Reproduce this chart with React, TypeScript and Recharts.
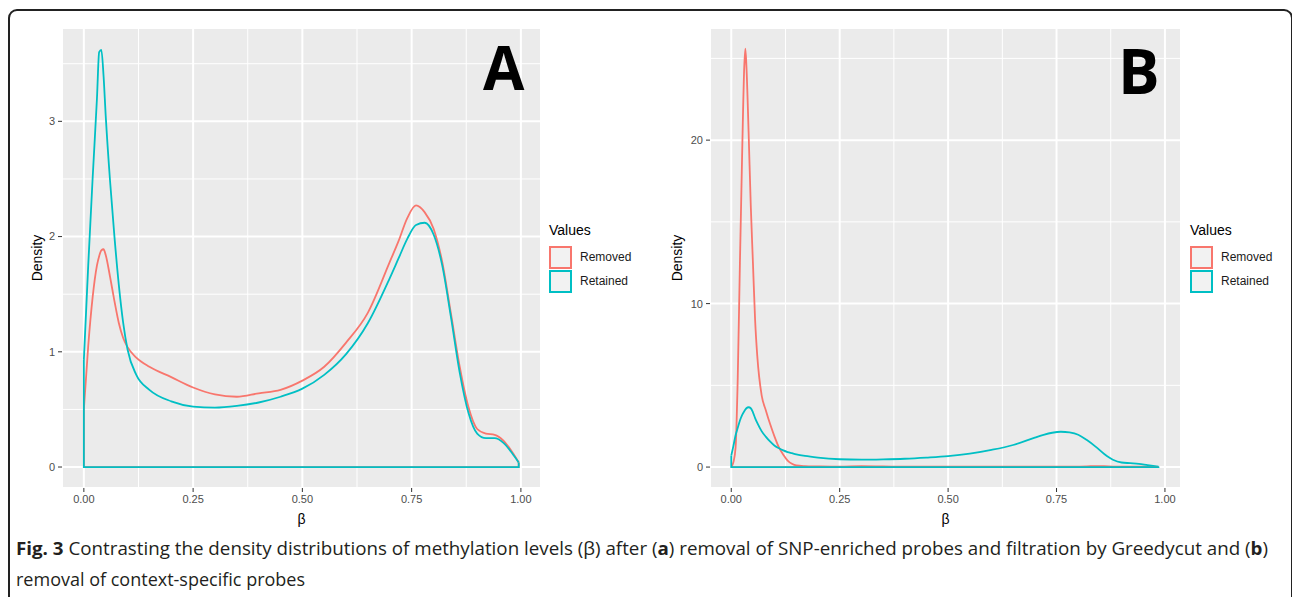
import React from 'react';
import { LineChart, Line, XAxis, YAxis, CartesianGrid } from 'recharts';

// legend / series
const seriesNames = ['Removed', 'Retained'];
const seriesColors = ['#F8766D', '#00BFC4'];

const xTicks = [0, 0.25, 0.5, 0.75, 1];
const xMinor = [0.125, 0.375, 0.625, 0.875];

// panel A: SNP-enriched probes + Greedycut
const betaA = [0, 0.01, 0.02, 0.03, 0.035, 0.04, 0.045, 0.05, 0.06, 0.07, 0.08, 0.09, 0.1, 0.12, 0.15, 0.2, 0.25, 0.3, 0.35, 0.4, 0.45, 0.5, 0.55, 0.6, 0.65, 0.7, 0.72, 0.74, 0.76, 0.78, 0.8, 0.82, 0.84, 0.86, 0.88, 0.9, 0.92, 0.94, 0.96, 0.98, 0.995];
const removedA = [0.5, 1.05, 1.47, 1.75, 1.83, 1.88, 1.89, 1.84, 1.65, 1.44, 1.25, 1.12, 1.04, 0.95, 0.87, 0.78, 0.69, 0.63, 0.61, 0.64, 0.67, 0.75, 0.87, 1.08, 1.34, 1.78, 1.96, 2.16, 2.27, 2.21, 2.07, 1.78, 1.33, 0.87, 0.52, 0.33, 0.29, 0.28, 0.23, 0.13, 0.04];
const retainedA = [0.93, 1.75, 2.5, 3.2, 3.6, 3.62, 3.4, 3.05, 2.48, 2.0, 1.58, 1.25, 1.02, 0.8, 0.67, 0.57, 0.525, 0.515, 0.53, 0.56, 0.61, 0.68, 0.8, 0.98, 1.25, 1.64, 1.81, 1.98, 2.1, 2.12, 2.02, 1.75, 1.3, 0.82, 0.47, 0.29, 0.25, 0.25, 0.21, 0.12, 0.04];
const yTicksA = [0, 1, 2, 3];
const yMinorA = [0.5, 1.5, 2.5, 3.5];

// panel B: context-specific probes
const betaB = [0, 0.005, 0.01, 0.015, 0.02, 0.025, 0.03, 0.0325, 0.035, 0.04, 0.045, 0.05, 0.055, 0.06, 0.07, 0.08, 0.09, 0.1, 0.11, 0.12, 0.13, 0.14, 0.15, 0.17, 0.2, 0.25, 0.3, 0.35, 0.4, 0.45, 0.5, 0.55, 0.6, 0.65, 0.7, 0.72, 0.74, 0.76, 0.78, 0.8, 0.82, 0.84, 0.86, 0.88, 0.9, 0.92, 0.94, 0.96, 0.985];
const removedB = [0, 0.3, 1.2, 5.5, 12.5, 19.0, 24.5, 25.6, 24.5, 20.5, 16.0, 12.5, 9.0, 6.8, 4.4, 3.45, 2.6, 1.85, 1.2, 0.75, 0.4, 0.2, 0.1, 0.06, 0.04, 0.02, 0.05, 0.04, 0.02, 0.02, 0.02, 0.02, 0.02, 0.02, 0.02, 0.02, 0.02, 0.02, 0.02, 0.03, 0.04, 0.06, 0.05, 0.03, 0.02, 0.02, 0.02, 0.02, 0];
const retainedB = [0.7, 1.3, 1.95, 2.4, 2.85, 3.18, 3.42, 3.52, 3.6, 3.66, 3.6, 3.35, 3.0, 2.7, 2.2, 1.85, 1.55, 1.3, 1.15, 1.02, 0.92, 0.85, 0.78, 0.68, 0.58, 0.48, 0.45, 0.47, 0.51, 0.58, 0.67, 0.82, 1.05, 1.35, 1.8, 1.97, 2.1, 2.16, 2.12, 1.98, 1.65, 1.25, 0.8, 0.45, 0.28, 0.24, 0.2, 0.12, 0.03];
const yTicksB = [0, 10, 20];
const yMinorB = [5, 15, 25];

const FONT = '"Liberation Sans", Arial, sans-serif';

const toCurve = (beta: number[], ys: number[]) => beta.map((b, i) => ({ beta: b, density: ys[i] }));
// geom_density closes the polygon: down to zero at both ends, along the baseline
const toOutline = (beta: number[], ys: number[]) => {
  const n = beta.length - 1;
  return [
    { beta: beta[0], density: ys[0] },
    { beta: beta[0], density: 0 },
    { beta: beta[n], density: 0 },
    { beta: beta[n], density: ys[n] },
  ];
};

type PanelProps = {
  left: number;
  marginLeft: number;
  beta: number[];
  series: number[][];
  yTicks: number[];
  yMinor: number[];
  xDomain: [number, number];
  yDomain: [number, number];
  labelDx: number;
};

function DensityPanel({ left, marginLeft, beta, series, yTicks, yMinor, xDomain, yDomain, labelDx }: PanelProps) {
  const tickStyle = { fill: '#4D4D4D', fontSize: 11, fontFamily: FONT };
  return (
    <div style={{ position: 'absolute', left, top: 0 }}>
      <LineChart width={560} height={540} margin={{ top: 28, right: 19, bottom: 12, left: marginLeft }}>
        <CartesianGrid fill="#EBEBEB" stroke="#FFFFFF" strokeWidth={2} />
        <CartesianGrid horizontalValues={yMinor} verticalValues={xMinor} stroke="#FFFFFF" strokeWidth={1} />
        <XAxis
          dataKey="beta"
          type="number"
          domain={xDomain}
          allowDataOverflow
          ticks={xTicks}
          tickFormatter={(v: number) => v.toFixed(2)}
          axisLine={false}
          tickLine={{ stroke: '#333333' }}
          tickSize={4}
          tickMargin={3}
          tick={tickStyle}
          height={40}
          label={{ value: 'β', position: 'insideBottom', offset: 4, fill: '#000', fontSize: 14, fontFamily: FONT }}
        />
        <YAxis
          type="number"
          domain={yDomain}
          allowDataOverflow
          ticks={yTicks}
          axisLine={false}
          tickLine={{ stroke: '#333333' }}
          tickSize={4}
          tickMargin={3}
          tick={tickStyle}
          width={40}
          label={{ value: 'Density', angle: -90, position: 'center', dx: labelDx, fill: '#000', fontSize: 14, fontFamily: FONT }}
        />
        {series.map((ys, i) => (
          <Line
            key={'c' + i}
            data={toCurve(beta, ys)}
            dataKey="density"
            type="monotone"
            stroke={seriesColors[i]}
            strokeWidth={1.8}
            dot={false}
            isAnimationActive={false}
          />
        ))}
        {series.map((ys, i) => (
          <Line
            key={'o' + i}
            data={toOutline(beta, ys)}
            dataKey="density"
            type="linear"
            stroke={seriesColors[i]}
            strokeWidth={1.8}
            dot={false}
            isAnimationActive={false}
          />
        ))}
      </LineChart>
    </div>
  );
}

function ValuesLegend({ left }: { left: number }) {
  return (
    <div style={{ position: 'absolute', left, top: 221, fontFamily: FONT }}>
      <div style={{ fontSize: 14, lineHeight: '18px', color: '#000' }}>Values</div>
      <div style={{ height: 6 }} />
      {seriesNames.map((name, i) => (
        <div key={name} style={{ display: 'flex', alignItems: 'center', height: 24 }}>
          <div
            style={{
              width: 19,
              height: 19,
              background: '#F2F2F2',
              border: `2px solid ${seriesColors[i]}`,
            }}
          />
          <span style={{ marginLeft: 8, fontSize: 12, color: '#1A1A1A' }}>{name}</span>
        </div>
      ))}
    </div>
  );
}

function PanelLetter({ left, top, size, text }: { left: number; top: number; size: number; text: string }) {
  return (
    <div
      style={{
        position: 'absolute',
        left,
        top,
        fontFamily: '"Open Sans", sans-serif',
        fontWeight: 700,
        fontSize: size,
        lineHeight: 1,
        color: '#000',
      }}
    >
      {text}
    </div>
  );
}

export default function App() {
  return (
    <div style={{ position: 'absolute', left: 0, top: 0, width: 1292, height: 597, overflow: 'hidden', background: '#fff' }}>
      {/* rounded frame */}
      <div
        style={{
          position: 'absolute',
          left: 8,
          top: 9,
          width: 1281,
          height: 700,
          border: '2px solid #222',
          borderRadius: 9,
        }}
      />
      <DensityPanel
        left={0}
        marginLeft={22}
        beta={betaA}
        series={[removedA, retainedA]}
        yTicks={yTicksA}
        yMinor={yMinorA}
        xDomain={[-0.05, 1.046]}
        yDomain={[-0.182, 3.81]}
        labelDx={-5}
      />
      <DensityPanel
        left={640}
        marginLeft={30}
        beta={betaB}
        series={[removedB, retainedB]}
        yTicks={yTicksB}
        yMinor={yMinorB}
        xDomain={[-0.049, 1.037]}
        yDomain={[-1.28, 26.86]}
        labelDx={-13}
      />
      <ValuesLegend left={549} />
      <ValuesLegend left={1190} />
      <PanelLetter left={483} top={37} size={60} text="A" />
      <PanelLetter left={1118} top={39} size={62} text="B" />
      <svg style={{ position: 'absolute', left: 0, top: 0 }} width={1292} height={597}>
        <text
          x={16}
          y={555}
          textLength={1252}
          lengthAdjust="spacingAndGlyphs"
          fontFamily='"Open Sans", sans-serif'
          fontSize={18}
          fill="#231F20"
        >
          <tspan fontWeight={700}>Fig. 3</tspan> Contrasting the density distributions of methylation levels (β) after (
          <tspan fontWeight={700}>a</tspan>) removal of SNP-enriched probes and filtration by Greedycut and (
          <tspan fontWeight={700}>b</tspan>)
        </text>
        <text x={16} y={586} fontFamily='"Open Sans", sans-serif' fontSize={18} fill="#231F20">
          removal of context-specific probes
        </text>
      </svg>
    </div>
  );
}
